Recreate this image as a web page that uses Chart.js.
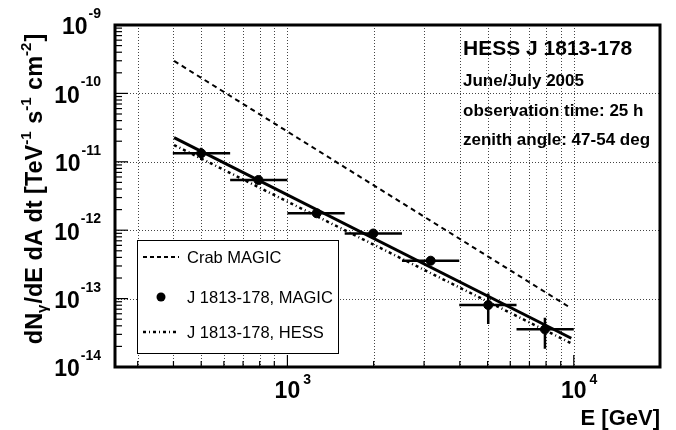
<!DOCTYPE html>
<html>
<head>
<meta charset="utf-8">
<script src="https://cdn.jsdelivr.net/npm/chart.js@4/dist/chart.umd.min.js"></script>
<style>
  body { margin: 0; background: #fff; }
  canvas { display: block; }
</style>
</head>
<body>
<canvas id="spectrum" width="676" height="430"></canvas>
<script>
// === Data ===
const energy   = [500, 792, 1265, 1995, 3164, 5026, 7930];        // GeV
const eLow     = [398, 631, 1000, 1585, 2512, 3981, 6310];
const eHigh    = [631, 1000, 1585, 2512, 3981, 6310, 10000];
const flux     = [1.33e-11, 5.42e-12, 1.77e-12, 8.95e-13, 3.58e-13, 8.05e-14, 3.55e-14];
const fluxErr  = [2.7e-12, 6e-13, 2e-13, 9e-14, 4e-14, 3.8e-14, 1.7e-14];

const lineE     = [402, 9800];
const crabFlux  = [2.98e-10, 7.2e-14];
const magicFit  = [2.25e-11, 2.63e-14];
const hessFit   = [1.76e-11, 2.22e-14];

const yDecades  = [1e-9, 1e-10, 1e-11, 1e-12, 1e-13, 1e-14];
const yExpLabel = ['-9', '-10', '-11', '-12', '-13', '-14'];
const xMajor    = [1000, 10000];
const xExpLabel = ['3', '4'];
const xGrid     = [300, 400, 500, 600, 700, 800, 900, 1000, 2000, 3000, 4000, 5000, 6000, 7000, 8000, 9000, 10000];
const xMinorTicks = [300, 400, 500, 600, 700, 800, 900, 2000, 3000, 4000, 5000, 6000, 7000, 8000, 9000];
const yMinorMult  = [2, 3, 4, 5, 6, 7, 8, 9];

const infoLines = ['June/July 2005', 'observation time: 25 h', 'zenith angle: 47-54 deg'];

const FONT = '"Liberation Sans", Arial, Helvetica, sans-serif';

function pairs(xs, ys) {
  return xs.map((x, i) => ({ x: x, y: ys[i] }));
}

// === Plugin: grid, error bars, frame, labels, legend ===
const rootStyle = {
  id: 'rootStyle',
  beforeDatasetsDraw(chart) {
    const { ctx, chartArea: a, scales: { x, y } } = chart;
    ctx.save();
    ctx.strokeStyle = '#444';
    ctx.lineWidth = 1;
    ctx.setLineDash([1, 2]);
    xGrid.forEach(v => {
      const px = Math.round(x.getPixelForValue(v)) + 0.5;
      ctx.beginPath(); ctx.moveTo(px, a.top); ctx.lineTo(px, a.bottom); ctx.stroke();
    });
    yDecades.forEach(v => {
      const py = Math.round(y.getPixelForValue(v)) + 0.5;
      ctx.beginPath(); ctx.moveTo(a.left, py); ctx.lineTo(a.right, py); ctx.stroke();
    });
    ctx.setLineDash([]);

    // ticks inside the frame
    ctx.strokeStyle = '#000';
    ctx.lineWidth = 1.2;
    yDecades.forEach((d, i) => {
      const py = y.getPixelForValue(d);
      ctx.beginPath(); ctx.moveTo(a.left, py); ctx.lineTo(a.left + 13, py); ctx.stroke();
      if (i === 0) return;
      yMinorMult.forEach(m => {
        const pm = y.getPixelForValue(d * m);
        ctx.beginPath(); ctx.moveTo(a.left, pm); ctx.lineTo(a.left + 7, pm); ctx.stroke();
      });
    });
    xMinorTicks.forEach(v => {
      const px = x.getPixelForValue(v);
      ctx.beginPath(); ctx.moveTo(px, a.bottom); ctx.lineTo(px, a.bottom - 6); ctx.stroke();
    });
    xMajor.forEach(v => {
      const px = x.getPixelForValue(v);
      ctx.beginPath(); ctx.moveTo(px, a.bottom); ctx.lineTo(px, a.bottom - 12); ctx.stroke();
    });
    ctx.restore();
  },
  afterDatasetsDraw(chart) {
    const { ctx, scales: { x, y } } = chart;
    ctx.save();
    ctx.strokeStyle = '#000';
    ctx.lineWidth = 2.5;
    energy.forEach((e, i) => {
      const py = y.getPixelForValue(flux[i]);
      const px = x.getPixelForValue(e);
      ctx.beginPath();
      ctx.moveTo(x.getPixelForValue(eLow[i]), py);
      ctx.lineTo(x.getPixelForValue(eHigh[i]), py);
      ctx.moveTo(px, y.getPixelForValue(flux[i] + fluxErr[i]));
      ctx.lineTo(px, y.getPixelForValue(flux[i] - fluxErr[i]));
      ctx.stroke();
    });
    ctx.restore();
  },
  afterDraw(chart) {
    const { ctx, chartArea: a, scales: { x, y } } = chart;
    ctx.save();

    // legend box
    const lx = 137, ly = 240, lw = 201, lh = 113;
    ctx.fillStyle = '#fff';
    ctx.fillRect(lx, ly, lw, lh);
    ctx.strokeStyle = '#000';
    ctx.lineWidth = 1;
    ctx.strokeRect(lx + 0.5, ly + 0.5, lw, lh);
    ctx.fillStyle = '#000';
    ctx.font = '16.5px ' + FONT;
    ctx.textBaseline = 'middle';
    ctx.textAlign = 'left';
    const rows = [
      { label: 'Crab MAGIC', y: 257, dash: [4, 3], w: 2 },
      { label: 'J 1813-178, MAGIC', y: 297, dot: true },
      { label: 'J 1813-178, HESS', y: 332, dash: [3, 3, 1, 3], w: 2.5 }
    ];
    rows.forEach(r => {
      if (r.dot) {
        ctx.beginPath(); ctx.arc(161, r.y, 4.5, 0, Math.PI * 2); ctx.fill();
      } else {
        ctx.lineWidth = r.w;
        ctx.setLineDash(r.dash);
        ctx.beginPath(); ctx.moveTo(143, r.y); ctx.lineTo(179, r.y); ctx.stroke();
        ctx.setLineDash([]);
      }
      ctx.fillText(r.label, 187, r.y + 1);
    });

    // frame
    ctx.lineWidth = 3;
    ctx.strokeRect(a.left, a.top, a.right - a.left, a.bottom - a.top);

    // y tick labels
    yDecades.forEach((d, i) => {
      const py = y.getPixelForValue(d);
      ctx.font = 'bold 14px ' + FONT;
      ctx.textAlign = 'right';
      ctx.textBaseline = 'alphabetic';
      const supW = ctx.measureText(yExpLabel[i]).width;
      ctx.fillText(yExpLabel[i], 101, py - 7);
      ctx.font = 'bold 23px ' + FONT;
      ctx.textBaseline = 'middle';
      ctx.fillText('10', 101 - supW - 1, py + 3);
    });

    // x tick labels
    xMajor.forEach((v, i) => {
      const px = x.getPixelForValue(v);
      ctx.font = 'bold 23px ' + FONT;
      ctx.textAlign = 'center';
      ctx.textBaseline = 'middle';
      ctx.fillText('10', px, 392);
      const w = ctx.measureText('10').width;
      ctx.font = 'bold 14px ' + FONT;
      ctx.textAlign = 'left';
      ctx.textBaseline = 'alphabetic';
      ctx.fillText(xExpLabel[i], px + w / 2 + 3, 384);
    });

    // x title
    ctx.font = 'bold 22px ' + FONT;
    ctx.textAlign = 'right';
    ctx.textBaseline = 'alphabetic';
    ctx.fillText('E [GeV]', 660, 425);

    // y title (rotated, with sub/superscripts)
    const parts = [
      { t: 'dN', s: 0 }, { t: 'γ', s: -1 }, { t: '/dE dA dt [TeV', s: 0 }, { t: '-1', s: 1 },
      { t: ' s', s: 0 }, { t: '-1', s: 1 }, { t: ' cm', s: 0 }, { t: '-2', s: 1 }, { t: ']', s: 0 }
    ];
    const fontFor = p => (p.s === 0 ? 'bold 23.5px ' : 'bold 15px ') + FONT;
    let total = 0;
    parts.forEach(p => { ctx.font = fontFor(p); p.w = ctx.measureText(p.t).width + (p.s ? 1 : 0); total += p.w; });
    ctx.translate(42, 189);
    ctx.rotate(-Math.PI / 2);
    let cx = -total / 2;
    ctx.textAlign = 'left';
    parts.forEach(p => {
      ctx.font = fontFor(p);
      const dy = p.s === 1 ? -11 : (p.s === -1 ? 5 : 0);
      ctx.fillText(p.t, cx, dy);
      cx += p.w;
    });
    ctx.setTransform(1, 0, 0, 1, 0, 0);

    // info text
    ctx.textAlign = 'left';
    ctx.font = 'bold 21px ' + FONT;
    ctx.fillText('HESS J 1813-178', 463, 55);
    ctx.font = 'bold 17px ' + FONT;
    [86, 116, 145].forEach((by, i) => ctx.fillText(infoLines[i], 463, by));

    ctx.restore();
  }
};

new Chart(document.getElementById('spectrum'), {
  type: 'scatter',
  data: {
    datasets: [
      {
        label: 'Crab MAGIC', type: 'line', data: pairs(lineE, crabFlux),
        borderColor: '#000', borderWidth: 2, borderDash: [5, 4], pointRadius: 0, fill: false
      },
      {
        label: 'MAGIC fit', type: 'line', data: pairs(lineE, magicFit),
        borderColor: '#000', borderWidth: 3, pointRadius: 0, fill: false
      },
      {
        label: 'J 1813-178, HESS', type: 'line', data: pairs(lineE, hessFit),
        borderColor: '#000', borderWidth: 2.5, borderDash: [3, 3, 1, 3], pointRadius: 0, fill: false
      },
      {
        label: 'J 1813-178, MAGIC', data: pairs(energy, flux),
        backgroundColor: '#000', borderColor: '#000', pointRadius: 4.5, pointHoverRadius: 4.5
      }
    ]
  },
  options: {
    responsive: false,
    animation: false,
    devicePixelRatio: 1,
    layout: { padding: { left: 115, top: 25, right: 16, bottom: 63 } },
    plugins: { legend: { display: false }, tooltip: { enabled: false } },
    scales: {
      x: { type: 'logarithmic', min: 250, max: 20000, display: false },
      y: { type: 'logarithmic', min: 1e-14, max: 1e-9, display: false }
    }
  },
  plugins: [rootStyle]
});
</script>
</body>
</html>
